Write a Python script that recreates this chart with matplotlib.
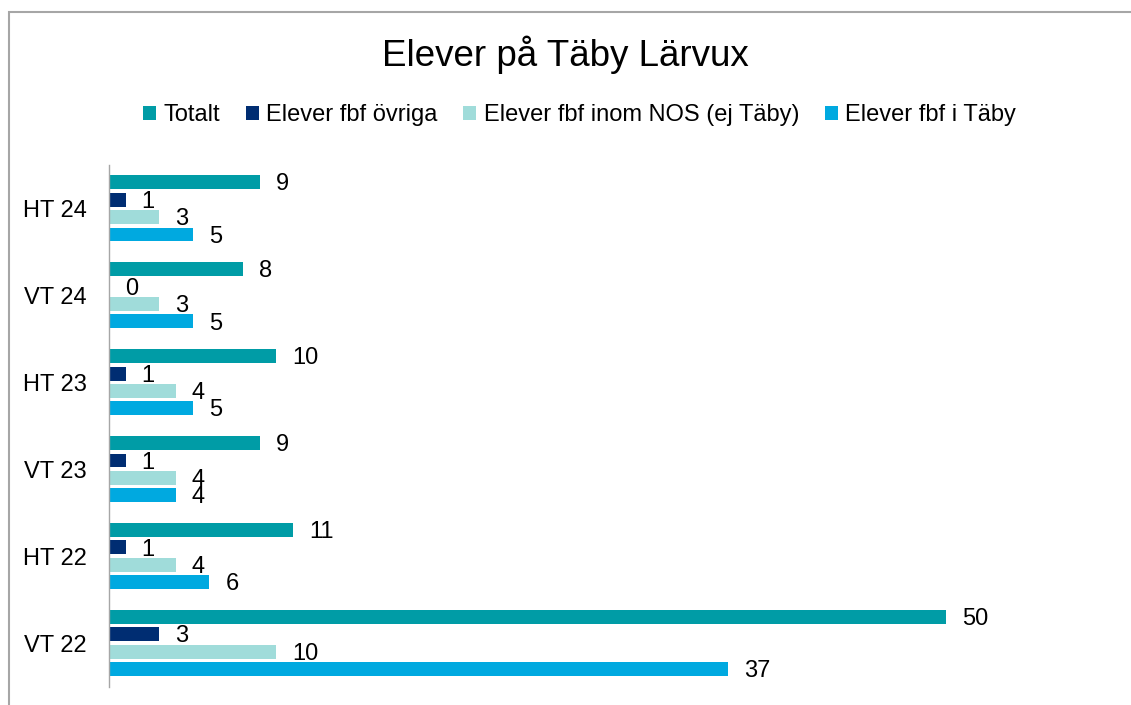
import numpy as np
import matplotlib
matplotlib.use("Agg")
import matplotlib.pyplot as plt
from matplotlib.patches import Patch, Rectangle

plt.rcParams['font.family'] = ['Liberation Sans', 'DejaVu Sans']

# terms, bottom to top
terms = ['VT 22', 'HT 22', 'VT 23', 'HT 23', 'VT 24', 'HT 24']

series_names = ['Totalt', 'Elever fbf övriga', 'Elever fbf inom NOS (ej Täby)', 'Elever fbf i Täby']
totalt = [50, 11, 9, 10, 8, 9]
ovriga = [3, 1, 1, 1, 0, 1]
inom_nos = [10, 4, 4, 4, 3, 3]
i_taby = [37, 6, 4, 5, 5, 5]

colors = ['#009CA6', '#002D72', '#A0DCDA', '#00A9E0']

fig = plt.figure(figsize=(11.31, 7.05), dpi=100)
ax = fig.add_axes([109/1131, 18.5/705, (1113-109)/1131, 521.5/705])

y = np.arange(len(terms))
offsets = [0.3, 0.1, -0.1, -0.3]
all_series = [totalt, ovriga, inom_nos, i_taby]

for vals, off, col in zip(all_series, offsets, colors):
    ax.barh(y + off, vals, height=0.16, color=col)
    for yi, v in zip(y, vals):
        ax.annotate(str(v), (v, yi + off), xytext=(11.5, -1.5), textcoords='offset points',
                    va='center', ha='left', fontsize=17, color='black')

ax.set_xlim(0, 60)
ax.set_ylim(-0.5, 5.5)
ax.set_yticks(y)
ax.set_yticklabels(terms, fontsize=17)
ax.tick_params(axis='y', length=0, pad=16)
for lab in ax.get_yticklabels():
    lab.set_y(lab.get_position()[1])
ax.set_xticks([])
for s in ['top', 'right', 'bottom']:
    ax.spines[s].set_visible(False)
ax.spines['left'].set_color('#A6A6A6')
ax.spines['left'].set_linewidth(1)

fig.text(0.5, 1 - 55/705, 'Elever på Täby Lärvux', ha='center', va='center', fontsize=26.5)

handles = [Patch(facecolor=c, edgecolor='none') for c in colors]
fig.legend(handles, series_names, loc='center', bbox_to_anchor=(0.5125, 1 - 115/705),
           ncol=4, frameon=False, fontsize=17, handlelength=0.55, handleheight=0.55,
           handletextpad=0.3, columnspacing=1.1)

# chart border
fig.patches.append(Rectangle((9/1131, -0.1), 1.2, 1.1 - 12/705, transform=fig.transFigure,
                             fill=False, edgecolor='#A6A6A6', linewidth=1.5))

fig.savefig('out.png', dpi=100)
